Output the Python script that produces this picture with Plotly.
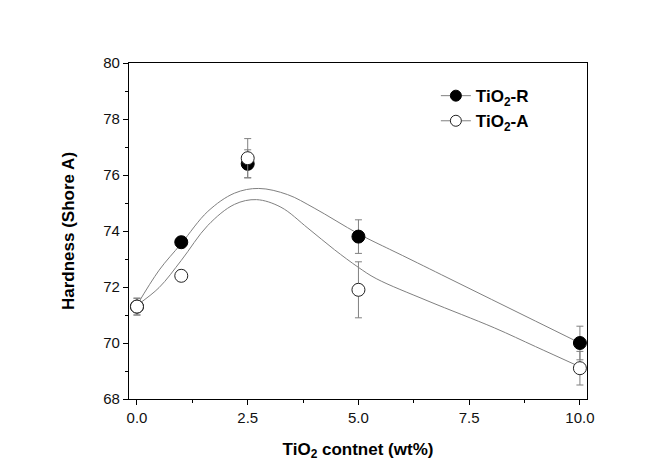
import plotly.graph_objects as go

# Measured data
x_pts = [0.0, 1.0, 2.5, 5.0, 10.0]
r_vals = [71.3, 73.6, 76.4, 73.8, 70.0]
r_err = [0.3, 0.2, 0.5, 0.6, 0.6]
a_vals = [71.3, 72.4, 76.6, 71.9, 69.1]
a_err = [0.3, 0.2, 0.7, 1.0, 0.6]

# Fitted curves
r_fit_x = [0.0, 0.5, 1.0, 1.6, 2.2, 2.75, 3.4, 4.0, 5.0, 5.7, 6.0, 7.0, 8.0, 9.0, 10.0]
r_fit_y = [71.35, 72.6, 73.55, 74.7, 75.35, 75.52, 75.3, 74.82, 73.9, 73.35, 73.12, 72.34, 71.56, 70.78, 70.0]
a_fit_x = [0.0, 0.5, 1.0, 1.6, 2.2, 2.7, 3.25, 3.86, 4.46, 5.0, 5.4, 6.57, 8.07, 9.0, 10.0]
a_fit_y = [71.35, 71.98, 72.95, 74.2, 74.95, 75.12, 74.85, 74.1, 73.33, 72.7, 72.3, 71.5, 70.54, 69.87, 69.15]

x_ticks = [0.0, 2.5, 5.0, 7.5, 10.0]
y_ticks = [68, 70, 72, 74, 76, 78, 80]

GRAY = "#808080"
FONT = "Liberation Sans, Arial, sans-serif"

fig = go.Figure()

fig.add_trace(go.Scatter(x=r_fit_x, y=r_fit_y, mode="lines", line=dict(color=GRAY, width=1, shape="spline", smoothing=1.0),
                         showlegend=False, hoverinfo="skip"))
fig.add_trace(go.Scatter(x=a_fit_x, y=a_fit_y, mode="lines", line=dict(color=GRAY, width=1, shape="spline", smoothing=1.0),
                         showlegend=False, hoverinfo="skip"))

fig.add_trace(go.Scatter(x=x_pts, y=r_vals, mode="markers",
                         error_y=dict(type="data", array=r_err, color=GRAY, thickness=1, width=3.5),
                         marker=dict(symbol="circle", size=13, color="black", line=dict(color="black", width=1)),
                         showlegend=False))
fig.add_trace(go.Scatter(x=x_pts, y=a_vals, mode="markers",
                         error_y=dict(type="data", array=a_err, color=GRAY, thickness=1, width=3.5),
                         marker=dict(symbol="circle", size=13, color="white", line=dict(color="#222222", width=1)),
                         showlegend=False))

# Legend entries
fig.add_trace(go.Scatter(x=[None], y=[None], mode="lines+markers", name="TiO<sub>2</sub>-R",
                         line=dict(color=GRAY, width=1),
                         marker=dict(symbol="circle", size=11, color="black", line=dict(color="black", width=1))))
fig.add_trace(go.Scatter(x=[None], y=[None], mode="lines+markers", name="TiO<sub>2</sub>-A",
                         line=dict(color=GRAY, width=1),
                         marker=dict(symbol="circle", size=11, color="white", line=dict(color="#222222", width=1))))

fig.update_layout(
    width=672, height=468,
    margin=dict(l=121, r=93, t=55, b=77),
    paper_bgcolor="white", plot_bgcolor="white",
    font=dict(family=FONT, size=15, color="#111111"),
    legend=dict(x=0.67, y=0.955, xanchor="left", yanchor="top", bgcolor="rgba(0,0,0,0)",
                font=dict(family=FONT, size=17, color="black", weight="bold"),
                itemwidth=30, tracegroupgap=0),
    xaxis=dict(
        range=[-0.18, 10.16], tickvals=x_ticks, ticktext=[f"{v:.1f}" for v in x_ticks],
        ticks="outside", ticklen=5, tickwidth=1, tickcolor="black",
        minor=dict(tickvals=[1.25, 3.75, 6.25, 8.75], ticks="outside", ticklen=3, tickcolor="black", tickwidth=1),
        showline=True, linecolor="black", linewidth=1.3, mirror=True,
        showgrid=False, zeroline=False,
        tickfont=dict(family=FONT, size=15, color="#111111"),
        title=dict(text="TiO<sub>2</sub> contnet (wt%)", font=dict(family=FONT, size=17, color="black", weight="bold"), standoff=17),
    ),
    yaxis=dict(
        range=[68, 80], tickvals=y_ticks,
        ticks="outside", ticklen=5, tickwidth=1, tickcolor="black",
        minor=dict(tickvals=[69, 71, 73, 75, 77, 79], ticks="outside", ticklen=3, tickcolor="black", tickwidth=1),
        showline=True, linecolor="black", linewidth=1.3, mirror=True,
        showgrid=False, zeroline=False,
        tickfont=dict(family=FONT, size=15, color="#111111"),
        title=dict(text="Hardness (Shore A)", font=dict(family=FONT, size=17, color="black", weight="bold"), standoff=24),
    ),
)

fig.write_html("out.html")
